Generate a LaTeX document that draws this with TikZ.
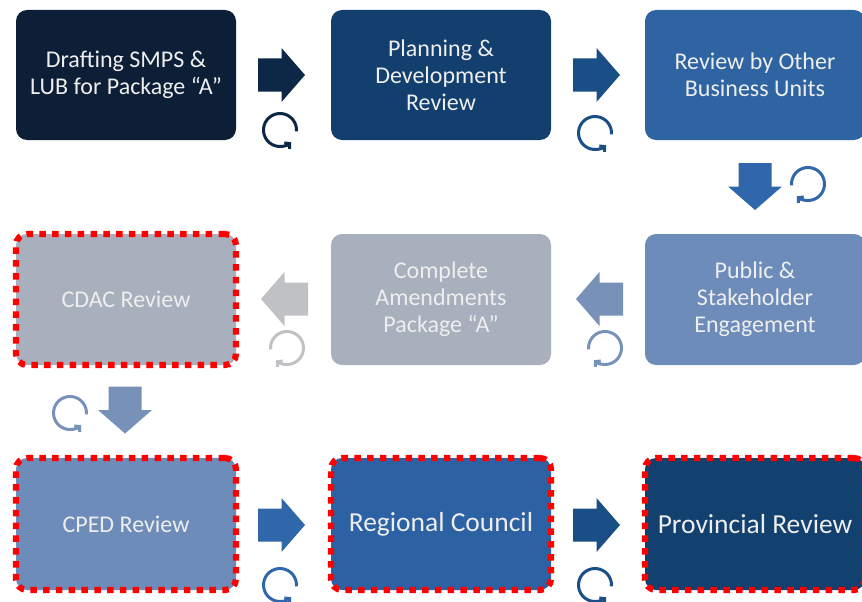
\documentclass[tikz,border=0pt]{standalone}
\usepackage{fontspec}
\setmainfont{Carlito}
\usetikzlibrary{arrows.meta}
\definecolor{cA}{HTML}{0C1F37}
\definecolor{cB}{HTML}{123F6E}
\definecolor{cC}{HTML}{2E64A2}
\definecolor{cD}{HTML}{6D8CBA}
\definecolor{cE}{HTML}{A9B0BD}
\definecolor{cH}{HTML}{2C61A3}
\definecolor{cI}{HTML}{12406F}
\definecolor{aA}{HTML}{0C2846}
\definecolor{aB}{HTML}{1A4E86}
\definecolor{aC}{HTML}{3067AA}
\definecolor{aD}{HTML}{7891B8}
\definecolor{aE}{HTML}{BFC1C5}
\definecolor{txt}{HTML}{EEEEEE}
\definecolor{redb}{HTML}{FF0000}
\tikzset{
  box/.style={rounded corners=11pt, minimum width=220pt, minimum height=130pt,
    inner sep=0pt, align=center, text=txt, font=\fontsize{24}{27}\selectfont},
  bigtxt/.style={font=\fontsize{27.5}{31}\selectfont},
  reddot/.style={draw=redb, line width=6.2pt, dash pattern=on 6.5pt off 6.3pt},
  barrow/.pic={\fill[pic actions] (-23.5,-16.5) -- (0,-16.5) -- (0,-27) -- (23.5,0) -- (0,27) -- (0,16.5) -- (-23.5,16.5) -- cycle;},
  cyc/.pic={\draw[line width=3pt, pic actions, -{Straight Barb[length=3.5pt,width=8pt]}]
     (5:16.5) arc[start angle=5, end angle=-312, radius=16.5];}
}
\begin{document}
\begin{tikzpicture}[x=1pt,y=-1pt]
\useasboundingbox (0,0) rectangle (862,602);
% boxes
\node[box, fill=cA] (b1) at (126,75) {Drafting SMPS \&\\LUB for Package “A”};
\node[box, fill=cB] (b2) at (441,75) {Planning \&\\Development\\Review};
\node[box, fill=cC] (b3) at (755,75) {Review by Other\\Business Units};
\node[box, fill=cD, minimum height=131pt] (b4) at (755,299.5) {Public \&\\Stakeholder\\Engagement};
\node[box, fill=cE, minimum height=131pt] (b5) at (441,299.5) {Complete\\Amendments\\Package “A”};
\node[box, fill=cE, minimum height=131pt, reddot] (b6) at (126,299.5) {CDAC Review};
\node[box, fill=cD, minimum height=132pt, reddot] (b7) at (126,524) {CPED Review};
\node[box, fill=cH, minimum height=132pt, reddot, bigtxt] (b8) at (441,524) {Regional Council};
\node[box, fill=cI, minimum height=132pt, reddot, bigtxt] (b9) at (755,524) {Provincial Review};
% block arrows
\pic[fill=aA] at (281.5,75) {barrow};
\pic[fill=aB] at (596.5,75) {barrow};
\pic[fill=aC, rotate=-90] at (755,186.5) {barrow};
\pic[fill=aD, rotate=180] at (599.5,299) {barrow};
\pic[fill=aE, rotate=180] at (284.5,299) {barrow};
\pic[fill=aD, rotate=-90] at (125,410) {barrow};
\pic[fill=aC] at (281.5,525) {barrow};
\pic[fill=aB] at (596.5,525) {barrow};
% cycle icons
\pic[draw=aA] at (280,130) {cyc};
\pic[draw=aB] at (595,133) {cyc};
\pic[draw=aC, xscale=-1] at (808,184) {cyc};
\pic[draw=aD, xscale=-1] at (605,348) {cyc};
\pic[draw=aE, xscale=-1] at (287,348) {cyc};
\pic[draw=aD] at (70,413) {cyc};
\pic[draw=aC] at (280,585) {cyc};
\pic[draw=aB] at (595,585) {cyc};
\end{tikzpicture}
\end{document}
